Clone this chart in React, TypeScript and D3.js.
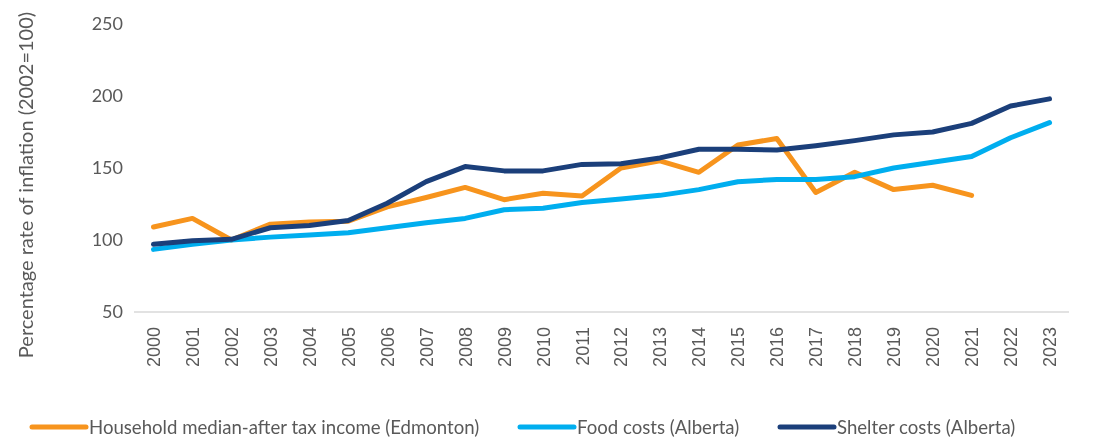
import { useEffect, useRef } from "react";
import * as d3 from "d3";

// ---- data ----
const years = [
  "2000", "2001", "2002", "2003", "2004", "2005", "2006", "2007", "2008", "2009", "2010", "2011",
  "2012", "2013", "2014", "2015", "2016", "2017", "2018", "2019", "2020", "2021", "2022", "2023",
];
const incomeEdmonton = [
  109, 115, 100, 111, 112.5, 113, 123, 129.5, 136.5, 128, 132.5, 130.5,
  150, 155, 147, 166, 170.5, 133, 147, 135, 138, 131, null, null,
];
const foodAlberta = [
  93.5, 97, 100, 102, 103.5, 105, 108.5, 112, 115, 121, 122, 126,
  128.5, 131, 135, 140.5, 142, 142, 144, 150, 154, 158, 171, 181.5,
];
const shelterAlberta = [
  97, 99.5, 100.5, 108.5, 110, 113.5, 125.5, 140.5, 151, 148, 148, 152.5,
  153, 157, 163, 163, 162.5, 165.5, 169, 173, 175, 181, 193, 198,
];
const yTicks = [50, 100, 150, 200, 250];

const series = [
  { label: "Household median-after tax income (Edmonton)", values: incomeEdmonton, color: "#F7941D" },
  { label: "Food costs (Alberta)", values: foodAlberta, color: "#00AEEF" },
  { label: "Shelter costs (Alberta)", values: shelterAlberta, color: "#1B3F7A" },
];

const W = 1112;
const H = 437;
const FONT = "Lato, 'Open Sans', sans-serif";
const GREY = "#595959";

export default function App() {
  const svgRef = useRef<SVGSVGElement>(null);

  useEffect(() => {
    const svg = d3.select(svgRef.current);
    svg.selectAll("*").remove();

    const left = 134, right = 1069, top = 24, bottom = 312;

    const x = d3.scaleBand<string>().domain(years).range([left, right]);
    const y = d3.scaleLinear().domain([50, 250]).range([bottom, top]);
    const cx = (yr: string) => (x(yr) ?? 0) + x.bandwidth() / 2;

    // y tick labels (no axis line in the reference)
    svg.append("g")
      .selectAll("text")
      .data(yTicks)
      .join("text")
      .attr("x", 123)
      .attr("y", d => y(d))
      .attr("dy", "0.36em")
      .attr("text-anchor", "end")
      .attr("font-family", FONT)
      .attr("font-size", 18)
      .attr("fill", GREY)
      .text(d => d);

    // baseline
    svg.append("line")
      .attr("x1", left).attr("x2", right)
      .attr("y1", y(50)).attr("y2", y(50))
      .attr("stroke", "#d9d9d9").attr("stroke-width", 1.5);

    // x tick labels, rotated
    svg.append("g")
      .selectAll("text")
      .data(years)
      .join("text")
      .attr("transform", d => `translate(${cx(d)},${bottom + 15}) rotate(-90)`)
      .attr("dy", "0.36em")
      .attr("text-anchor", "end")
      .attr("font-family", "'Liberation Sans', Arial, sans-serif")
      .attr("font-size", 18)
      .attr("fill", GREY)
      .text(d => d);

    // y axis title
    svg.append("text")
      .attr("transform", `translate(33,185) rotate(-90)`)
      .attr("text-anchor", "middle")
      .attr("font-family", FONT)
      .attr("font-size", 20)
      .attr("fill", GREY)
      .text("Percentage rate of inflation (2002=100)");

    const line = d3.line<number | null>()
      .defined(d => d != null)
      .x((_, i) => cx(years[i]))
      .y(d => y(d as number));

    series.forEach(s => {
      svg.append("path")
        .datum(s.values)
        .attr("fill", "none")
        .attr("stroke", s.color)
        .attr("stroke-width", 5)
        .attr("stroke-linejoin", "round")
        .attr("stroke-linecap", "round")
        .attr("d", line);
    });

    // legend
    const legendX = [30, 518, 778];
    const legend = svg.append("g");
    series.forEach((s, i) => {
      legend.append("line")
        .attr("x1", legendX[i] + 2).attr("x2", legendX[i] + 56)
        .attr("y1", 427).attr("y2", 427)
        .attr("stroke", s.color).attr("stroke-width", 5)
        .attr("stroke-linecap", "round");
      legend.append("text")
        .attr("x", legendX[i] + 59)
        .attr("y", 427)
        .attr("dy", "0.35em")
        .attr("font-family", FONT)
        .attr("font-size", 18.6)
        .attr("fill", GREY)
        .text(s.label);
    });
  }, []);

  return (
    <div style={{ position: "fixed", left: 0, top: 0, width: W, height: H, overflow: "hidden" }}>
      <svg ref={svgRef} width={W} height={H} style={{ display: "block" }} />
    </div>
  );
}
